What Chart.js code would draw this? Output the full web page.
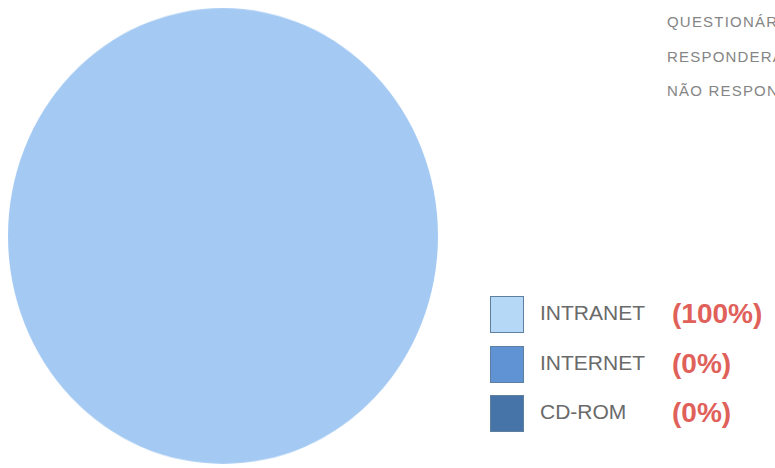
<!DOCTYPE html>
<html>
<head>
<meta charset="utf-8">
<script src="https://cdn.jsdelivr.net/npm/chart.js@4.4.1/dist/chart.umd.min.js"></script>
<style>
  html, body { margin: 0; padding: 0; background: #fff; }
  body { width: 775px; height: 468px; position: relative; overflow: hidden; font-family: "Liberation Sans", Arial, sans-serif; }
  #pieWrap { position: absolute; left: 8px; top: 21px; width: 430px; height: 430px; transform: scaleY(1.06); }
  #notes { position: absolute; left: 667px; top: 13px; white-space: nowrap; }
  #notes div { font-size: 15px; line-height: 17px; letter-spacing: 1.2px; color: #858585; height: 34.5px; }
  #legend { position: absolute; left: 490px; top: 296px; }
  .row { position: relative; height: 49.5px; }
  .swatch { position: absolute; left: 0; top: 0; width: 32px; height: 35px; border: 1px solid #5f7f9f; }
  .name { position: absolute; left: 50px; top: 5px; font-size: 21px; color: #6a6a6a; white-space: nowrap; }
  .pct { position: absolute; left: 182px; top: 2px; font-size: 28px; font-weight: bold; color: #e0605a; white-space: nowrap; }
</style>
</head>
<body>
<div id="pieWrap"><canvas id="pieChart"></canvas></div>
<div id="notes"></div>
<div id="legend"></div>
<script>
/* ===== Data ===== */
const categories = ["INTRANET", "INTERNET", "CD-ROM"];
const shares = [100, 0, 0];
const notes = ["QUESTIONÁRIOS ENVIADOS", "RESPONDERAM", "NÃO RESPONDERAM"];

const sliceColors = ["#a4caf3", "#5f93d3", "#4774a8"];

/* ===== Pie ===== */
const ctx = document.getElementById("pieChart").getContext("2d");
new Chart(ctx, {
  type: "pie",
  data: {
    labels: categories,
    datasets: [{
      data: shares,
      backgroundColor: sliceColors,
      borderWidth: 0
    }]
  },
  options: {
    responsive: true,
    maintainAspectRatio: false,
    animation: false,
    layout: { padding: 0 },
    plugins: { legend: { display: false }, tooltip: { enabled: false } }
  }
});

/* ===== Side texts ===== */
document.getElementById("notes").innerHTML = notes.map(n => `<div>${n}</div>`).join("");

/* ===== Legend ===== */
const legend = document.getElementById("legend");
categories.forEach((c, i) => {
  const row = document.createElement("div");
  row.className = "row";
  const swatchColor = i === 0 ? "#b6d8f7" : sliceColors[i];
  row.innerHTML = `
    <div class="swatch" style="background:${swatchColor}"></div>
    <div class="name">${c}</div>
    <div class="pct">(${shares[i]}%)</div>
  `;
  legend.appendChild(row);
});
</script>
</body>
</html>
